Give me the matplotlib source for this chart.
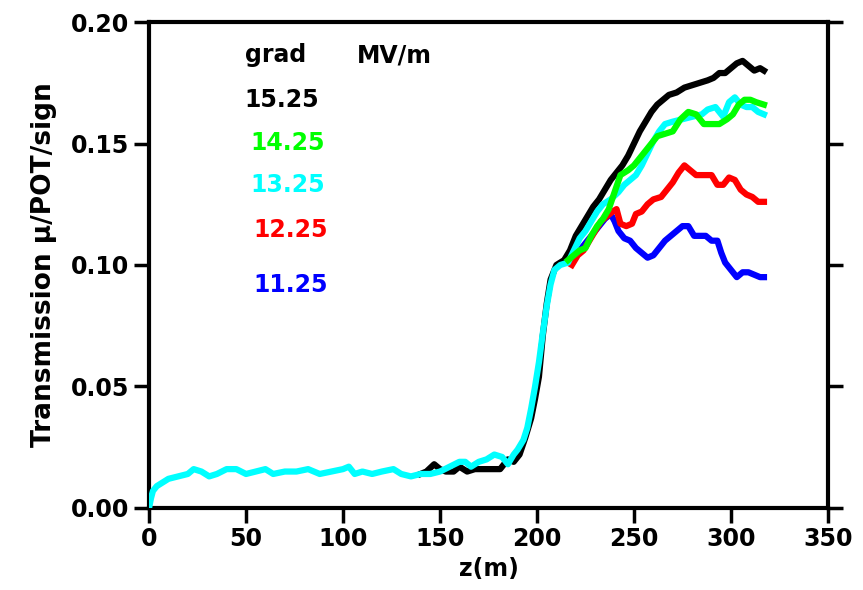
import matplotlib.pyplot as plt

# 15.25 MV/m (black)
z_1525 = [140, 143, 147, 150, 153, 157, 160, 164, 168, 172, 177, 181, 185, 188, 191,
          194, 197, 199, 201, 203, 205, 207, 210, 214, 217, 220, 223, 226, 229, 232,
          235, 238, 241, 244, 247, 250, 253, 256, 259, 262, 265, 268, 272, 276, 280,
          284, 288, 291, 294, 297, 300, 303, 306, 309, 312, 315, 317]
t_1525 = [0.014, 0.015, 0.018, 0.016, 0.015, 0.015, 0.017, 0.015, 0.016, 0.016, 0.016,
          0.016, 0.020, 0.019, 0.022, 0.029, 0.037, 0.045, 0.054, 0.071, 0.084, 0.094,
          0.100, 0.102, 0.106, 0.112, 0.116, 0.120, 0.124, 0.127, 0.131, 0.135, 0.138,
          0.141, 0.145, 0.150, 0.155, 0.159, 0.163, 0.166, 0.168, 0.170, 0.171, 0.173,
          0.174, 0.175, 0.176, 0.177, 0.179, 0.179, 0.181, 0.183, 0.184, 0.182, 0.180,
          0.181, 0.180]

# 13.25 MV/m (cyan)
z_1325 = [0, 1, 2, 4, 6, 10, 15, 20, 23, 27, 31, 35, 40, 45, 50, 55, 60, 64, 70, 76,
          82, 88, 94, 100, 103, 106, 110, 115, 120, 126, 130, 135, 140, 145, 150, 155,
          160, 163, 166, 170, 174, 178, 182, 185, 188, 190, 193, 195, 197, 199, 201,
          203, 205, 207, 209, 212, 216, 219, 222, 225, 228, 231, 234, 238, 242, 245,
          248, 251, 254, 257, 260, 263, 266, 270, 275, 280, 285, 288, 292, 296, 299,
          302, 305, 308, 311, 314, 317]
t_1325 = [0.000, 0.004, 0.007, 0.009, 0.010, 0.012, 0.013, 0.014, 0.016, 0.015, 0.013,
          0.014, 0.016, 0.016, 0.014, 0.015, 0.016, 0.014, 0.015, 0.015, 0.016, 0.014,
          0.015, 0.016, 0.017, 0.014, 0.015, 0.014, 0.015, 0.016, 0.014, 0.013, 0.014,
          0.014, 0.015, 0.017, 0.019, 0.019, 0.017, 0.019, 0.020, 0.022, 0.021, 0.018,
          0.022, 0.024, 0.028, 0.033, 0.041, 0.050, 0.060, 0.072, 0.083, 0.092, 0.098,
          0.100, 0.101, 0.106, 0.111, 0.114, 0.118, 0.122, 0.125, 0.127, 0.130, 0.133,
          0.135, 0.137, 0.141, 0.146, 0.151, 0.155, 0.158, 0.159, 0.160, 0.161, 0.162,
          0.164, 0.165, 0.161, 0.167, 0.169, 0.166, 0.165, 0.165, 0.163, 0.162]

# 14.25 MV/m (green)
z_1425 = [216, 219, 222, 225, 228, 231, 234, 237, 240, 243, 247, 250, 253, 256, 259,
          262, 266, 270, 274, 278, 282, 286, 290, 294, 298, 301, 304, 307, 310, 313, 317]
t_1425 = [0.102, 0.104, 0.106, 0.107, 0.112, 0.116, 0.119, 0.123, 0.130, 0.137, 0.139,
          0.141, 0.144, 0.147, 0.150, 0.153, 0.154, 0.155, 0.160, 0.163, 0.162, 0.158,
          0.158, 0.158, 0.160, 0.162, 0.166, 0.168, 0.168, 0.167, 0.166]

# 12.25 MV/m (red)
z_1225 = [218, 221, 224, 227, 230, 233, 236, 239, 241, 243, 246, 249, 251, 254, 257,
          260, 264, 267, 270, 273, 276, 279, 282, 286, 290, 293, 296, 299, 302, 305,
          308, 311, 314, 317]
t_1225 = [0.100, 0.104, 0.106, 0.110, 0.114, 0.118, 0.120, 0.122, 0.123, 0.117, 0.116,
          0.117, 0.121, 0.122, 0.125, 0.127, 0.128, 0.131, 0.134, 0.138, 0.141, 0.139,
          0.137, 0.137, 0.137, 0.133, 0.133, 0.136, 0.135, 0.131, 0.129, 0.128, 0.126,
          0.126]

# 11.25 MV/m (blue)
z_1125 = [218, 220, 223, 226, 229, 232, 235, 238, 240, 242, 245, 248, 251, 254, 257,
          260, 263, 266, 269, 272, 275, 278, 281, 284, 287, 290, 293, 295, 297, 300,
          303, 306, 309, 312, 315, 317]
t_1125 = [0.102, 0.104, 0.107, 0.110, 0.113, 0.116, 0.119, 0.121, 0.118, 0.114, 0.111,
          0.110, 0.107, 0.105, 0.103, 0.104, 0.107, 0.110, 0.112, 0.114, 0.116, 0.116,
          0.112, 0.112, 0.112, 0.110, 0.110, 0.105, 0.101, 0.098, 0.095, 0.097, 0.097,
          0.096, 0.095, 0.095]

x_ticks = [0, 50, 100, 150, 200, 250, 300, 350]
y_ticks = [0.00, 0.05, 0.10, 0.15, 0.20]
legend_labels = ['15.25', '14.25', '13.25', '12.25', '11.25']

plt.rcParams['font.family'] = 'DejaVu Sans'
plt.rcParams['font.weight'] = 'bold'

fig = plt.figure(figsize=(8.63, 5.90), dpi=100)
ax = fig.add_axes([0.1727, 0.139, 0.7867, 0.8237])

lw = 4.5
ax.plot(z_1525, t_1525, color='black', lw=lw, zorder=2)
ax.plot(z_1125, t_1125, color='blue', lw=lw, zorder=3)
ax.plot(z_1225, t_1225, color='red', lw=lw, zorder=3)
ax.plot(z_1325, t_1325, color='cyan', lw=lw, zorder=4)
ax.plot(z_1425, t_1425, color='lime', lw=lw, zorder=5)

ax.set_xlim(0, 350)
ax.set_ylim(0, 0.20)
ax.set_xticks(x_ticks)
ax.set_xticklabels([str(v) for v in x_ticks])
ax.set_yticks(y_ticks)
ax.set_yticklabels(['%.2f' % v for v in y_ticks])

for s in ax.spines.values():
    s.set_linewidth(3)
ax.tick_params(axis='both', direction='out', length=11, width=2.5,
               labelsize=17, pad=3)
ax.tick_params(axis='y', right=True, labelright=False)

ax.set_xlabel('z(m)', fontsize=17, fontweight='bold', labelpad=4)
ax.set_ylabel('Transmission \u03bc/POT/sign', fontsize=19, fontweight='bold',
              labelpad=10)

colors = ['black', 'lime', 'cyan', 'red', 'blue']
xs = [0.141, 0.149, 0.149, 0.153, 0.153]
ys = [0.840, 0.751, 0.665, 0.572, 0.459]
ax.text(0.141, 0.932, 'grad', transform=ax.transAxes, fontsize=17,
        fontweight='bold', va='center')
ax.text(0.306, 0.932, 'MV/m', transform=ax.transAxes, fontsize=17,
        fontweight='bold', va='center')
for lab, c, x, y in zip(legend_labels, colors, xs, ys):
    ax.text(x, y, lab, color=c, transform=ax.transAxes, fontsize=17,
            fontweight='bold', va='center')

fig.savefig('out.png', dpi=100)
